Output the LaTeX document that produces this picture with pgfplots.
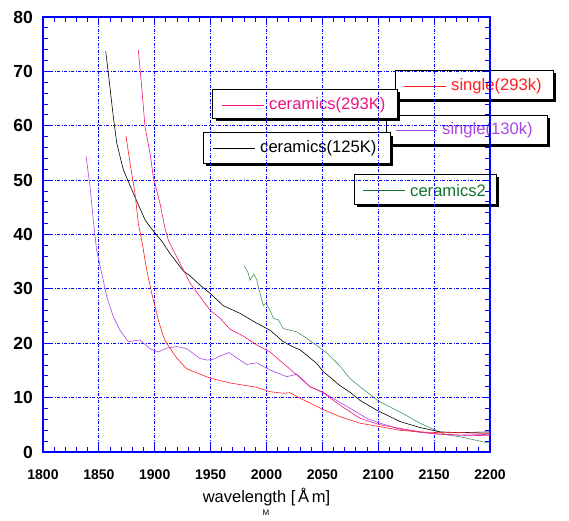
\documentclass[border=0pt]{standalone}
\usepackage{pgfplots}
\pgfplotsset{compat=1.18}
\usepackage{fontspec}
\setmainfont{Liberation Sans}
\definecolor{cred}{RGB}{255,30,30}
\definecolor{cpink}{RGB}{240,20,130}
\definecolor{cpurp}{RGB}{170,70,230}
\definecolor{cgreen}{RGB}{20,115,45}
\definecolor{cgreenl}{RGB}{70,150,90}
\newcommand{\legbox}[9]{%
  \fill[black] (#1+3,#2+3) rectangle (#3+3,#4+3);
  \filldraw[fill=white,draw=black,line width=0.8pt] (#1,#2) rectangle (#3,#4);
  \draw[#8,line width=0.8pt] (#5,#7) -- (#6,#7);
  \node[anchor=west,text=#8,inner sep=0pt,font=\fontsize{16.6}{16.6}\selectfont] at (#6+5,#7) {#9};
}
\begin{document}
\begin{tikzpicture}
\useasboundingbox (-43pt,-68pt) rectangle (526pt,452pt);
\begin{scope}[x=1pt,y=-1pt,shift={(-43pt,452pt)}]
\legbox{395}{70}{553}{99}{404}{446}{86}{cred}{single(293k)}
\legbox{386.7}{115}{547}{144}{396}{437}{130.7}{cpurp}{single(130k)}
\legbox{212.7}{89.3}{397}{118}{222}{264}{105}{cpink}{ceramics(293K)}
\legbox{203.3}{132.7}{390}{163}{213}{255}{148.3}{black}{ceramics(125K)}
\legbox{354}{174.3}{496}{204}{363}{405}{190.7}{cgreen}{ceramics2}
\node[anchor=north,inner sep=0pt,font=\fontsize{8}{8}\selectfont] at (266,510) {M};
\end{scope}
\begin{axis}[
  at={(0,0)}, anchor=south west, scale only axis,
  width=447pt, height=435pt,
  xmin=1800, xmax=2200, ymin=0, ymax=80,
  xtick={1800,1850,...,2200}, ytick={0,10,...,80},
  minor x tick num=4, minor y tick num=4,
  grid=major,
  major grid style={blue, line width=0.9pt, dash pattern=on 3pt off 1.5pt on 1pt off 1.5pt},
  axis line style={blue, line width=2pt},
  tick style={blue, line width=1pt},
  major tick length=7pt, minor tick length=5pt,
  tick align=inside,
  /pgf/number format/1000 sep={},
  /pgf/number format/assume math mode=true,
  xticklabel style={anchor=base, inner sep=0pt, yshift=-27pt, font=\fontsize{14}{14}\selectfont\bfseries},
  yticklabel style={anchor=east, inner sep=0pt, xshift=-10pt, font=\fontsize{17.5}{17.5}\selectfont\bfseries},
  xlabel={wavelength [\,Å\,m]},
  xlabel style={at={(axis description cs:0.5,0)}, anchor=base, inner sep=0pt, yshift=-50.7pt, font=\fontsize{16.5}{16.5}\selectfont},
]
\addplot[cgreenl, line width=0.6pt] coordinates {
(1980.2,34.2) (1983.7,32.9) (1985.2,31.6) (1988.8,32.7) (1991.2,31.7) (1994.2,29.2) (1997.2,26.9) (1999.5,27.4) (2003.1,26.1) (2006.1,24.6) (2010.6,24.3) (2015.0,22.7) (2021.0,22.4) (2027.0,22.1) (2036.0,20.9) (2044.9,19.6) (2053.9,18.2) (2065.8,15.8) (2074.7,13.5) (2083.7,12.0) (2100,9.4) (2120,7.3) (2137.4,5.3) (2152.3,3.9) (2160,3.2) (2173.2,2.8) (2200,1.6)};
\addplot[black, line width=0.6pt] coordinates {
(1856.1,73.7) (1858.5,69.6) (1862.9,61.7) (1866.0,56.8) (1871.9,51.9) (1880.8,47.6) (1891.3,42.7) (1895.8,41.4) (1901.7,39.9) (1907,38.6) (1913.6,36.5) (1925.6,33.3) (1931.5,32.4) (1940.5,30.7) (1949.4,29.2) (1961.4,26.9) (1976.3,25.5) (1991.2,23.7) (2003.1,22.4) (2015.0,20.3) (2024,19.3) (2030.0,18.8) (2044.9,16.3) (2050.8,14.8) (2065.8,12.2) (2074.7,11.0) (2083.7,9.5) (2098.6,7.7) (2119.5,5.6) (2137.4,4.5) (2155.3,3.7) (2173.2,3.55) (2200,3.7)};
\addplot[cpurp, line width=0.6pt] coordinates {
(1838.5,54.4) (1842.1,48.8) (1845.0,42.7) (1848.0,37.1) (1852.5,32.9) (1857.0,28.6) (1862.9,24.9) (1868.9,22.4) (1876.3,20.3) (1886.8,20.6) (1895.8,19.0) (1903.2,18.4) (1910.7,19.1) (1919.6,19.4) (1928.6,19.0) (1940.5,17.2) (1947,16.9) (1952.4,17.05) (1958,17.6) (1966.5,18.3) (1974,17.2) (1982.3,16.1) (1991.2,16.4) (2003.1,15.1) (2018.1,13.85) (2027.0,14.3) (2033.0,13.2) (2038.9,12.0) (2050.8,11.0) (2065.8,9.1) (2077.7,7.7) (2089.7,6.2) (2101.6,5.3) (2119.5,4.2) (2137.4,3.6) (2155.3,3.25) (2173.2,3.1) (2200,3.25)};
\addplot[cpink, line width=0.6pt] coordinates {
(1885.3,73.9) (1888.3,67.2) (1891.3,59.8) (1895.8,54.9) (1898.7,50.6) (1904.7,45.7) (1909.2,41.1) (1912.1,39.0) (1918.1,36.5) (1927.1,32.9) (1931.5,31.1) (1940.5,28.6) (1949.4,26.1) (1958.4,24.6) (1967.3,22.6) (1979.3,21.3) (1991.2,19.7) (2003.1,18.4) (2015.0,16.3) (2027.0,14.2) (2038.9,12.0) (2050.8,10.9) (2065.8,8.6) (2083.7,6.2) (2101.6,5.0) (2119.5,4.35) (2137.4,3.7) (2155.3,3.3) (2173.2,3.1) (2200,3.0)};
\addplot[cred, line width=0.6pt] coordinates {
(1874.3,58.1) (1877.9,53.1) (1882.3,47.6) (1885.3,42.0) (1888.3,39.0) (1892.8,33.5) (1897.3,29.2) (1903.2,24.3) (1907.7,21.2) (1910.7,20.0) (1916.6,18.2) (1919.6,17.3) (1928.6,15.3) (1949.4,13.6) (1967.3,12.7) (1991.2,11.9) (2003.1,11.1) (2015.0,10.8) (2021.0,10.9) (2030.0,9.9) (2040,8.9) (2050.8,7.8) (2065.8,6.5) (2083.7,5.3) (2101.6,4.65) (2119.5,4.0) (2137.4,3.7) (2155.3,3.55) (2173.2,3.55) (2200,3.4)};
\end{axis}
\end{tikzpicture}
\end{document}
